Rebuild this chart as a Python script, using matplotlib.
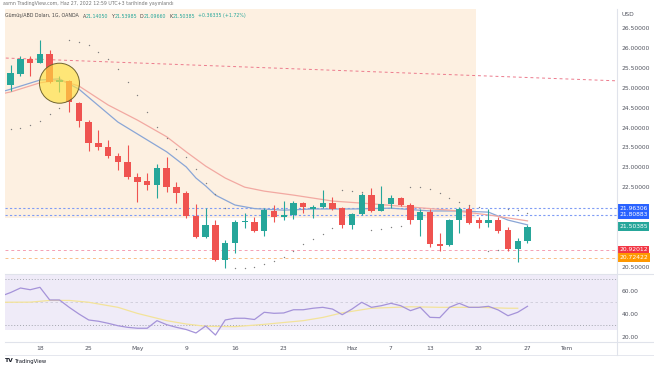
import numpy as np
import matplotlib.pyplot as plt
import matplotlib.transforms as mtransforms
from matplotlib.patches import Ellipse
from matplotlib.lines import Line2D

W, H = 654, 366

# gunluk mumlar, 13 Nisan - 27 Haziran 2022
opens = [25.08, 25.35, 25.73, 25.64, 25.86, 25.16, 25.18, 24.63, 24.15, 23.61, 23.51, 23.29, 23.14, 22.75,
         22.66, 22.55, 22.98, 22.51, 22.35, 21.77, 21.25, 21.55, 20.66, 21.08, 21.61, 21.61, 21.39, 21.90,
         21.75, 21.80, 22.09, 21.96, 22.01, 22.09, 21.97, 21.55, 21.82, 22.30, 21.91, 22.08, 22.22, 22.05,
         21.67, 21.88, 21.07, 21.04, 21.67, 21.94, 21.67, 21.60, 21.67, 21.42, 20.93, 21.1405]
highs = [25.58, 25.81, 25.81, 26.21, 25.96, 25.29, 25.20, 24.65, 24.19, 23.94, 23.69, 23.36, 23.56, 22.85,
         22.85, 23.08, 23.27, 22.64, 22.40, 22.08, 21.97, 21.67, 21.17, 21.67, 21.86, 21.76, 21.97, 22.05,
         22.16, 22.16, 22.12, 22.06, 22.43, 22.26, 22.00, 21.84, 22.36, 22.47, 22.53, 22.30, 22.26, 22.11,
         21.94, 21.94, 21.35, 21.69, 22.01, 22.05, 21.76, 21.94, 21.76, 21.49, 21.21, 21.53985]
lows = [24.92, 25.30, 25.30, 25.63, 25.13, 24.91, 24.40, 24.02, 23.42, 23.44, 23.24, 22.93, 22.70, 22.13,
        22.43, 22.22, 22.39, 22.09, 21.72, 21.21, 21.21, 20.64, 20.45, 20.85, 21.46, 21.37, 21.28, 21.63,
        21.67, 21.69, 21.84, 21.72, 21.97, 21.92, 21.46, 21.44, 21.80, 21.88, 21.89, 21.97, 22.03, 21.57,
        21.27, 20.98, 20.90, 21.02, 21.34, 21.57, 21.46, 21.50, 21.34, 20.90, 20.62, 21.0966]
closes = [25.37, 25.73, 25.64, 25.86, 25.16, 25.20, 24.65, 24.17, 23.61, 23.51, 23.29, 23.14, 22.75, 22.64,
          22.55, 22.98, 22.51, 22.35, 21.77, 21.25, 21.55, 20.66, 21.10, 21.61, 21.63, 21.39, 21.92, 21.74,
          21.80, 22.09, 21.99, 22.01, 22.09, 21.94, 21.55, 21.82, 22.30, 21.91, 22.07, 22.22, 22.05, 21.67,
          21.88, 21.07, 21.02, 21.67, 21.94, 21.60, 21.60, 21.67, 21.40, 20.93, 21.14, 21.50385]

# parabolic SAR noktalari
sar = [23.97, 23.99, 24.07, 24.18, 24.34, 24.49, 26.21, 26.17, 26.08, 25.91, 25.73, 25.48, 25.15, 24.82,
       24.40, 24.02, 23.74, 23.46, 23.26, 22.96, 22.61, 22.33, 21.98, 20.45, 20.47, 20.50, 20.56, 20.65,
       20.75, 20.90, 21.07, 21.19, 21.32, 21.46, 22.43, 22.41, 22.39, 21.42, 21.45, 21.49, 21.52, 22.51,
       22.50, 22.45, 22.35, 22.23, 22.12, 22.05, 21.99, 20.90, 20.92, 21.95, 21.92, 21.86]

# hareketli ortalamalar (okunan noktalar)
ma_fast_idx = [-1, 0, 3, 5, 7, 11, 14, 16, 18, 19, 20, 21, 23, 25, 28, 31, 35, 39, 43, 46, 49, 51, 53]
ma_fast_val = [24.90, 24.97, 25.20, 25.23, 24.97, 24.14, 23.69, 23.39, 23.01, 22.73, 22.53, 22.30, 22.05,
               21.96, 21.92, 21.95, 21.95, 21.97, 21.90, 21.90, 21.87, 21.67, 21.55]
ma_slow_idx = [-1, 0, 3, 5, 7, 10, 13, 16, 18, 20, 22, 24, 26, 29, 33, 37, 41, 45, 49, 53]
ma_slow_val = [24.85, 24.90, 25.13, 25.20, 25.05, 24.57, 24.19, 23.77, 23.39, 23.03, 22.73, 22.50, 22.40,
               22.30, 22.15, 22.08, 22.00, 21.92, 21.80, 21.65]

trend_x = [-1.1, 62.2]
trend_y = [25.76, 25.18]

blue_levels = [21.96306, 21.80883]
red_level = 20.92012
orange_level = 20.72422
last_price = 21.50385

# RSI
rsi_idx = list(range(-1, 54))
rsi = [55.5, 58.7, 62.6, 61.1, 63.2, 52.2, 52.2, 45.8, 40.0, 34.8, 33.7, 31.9, 29.8, 28.4, 27.6, 27.6,
       34.2, 30.7, 28.4, 26.5, 23.5, 29.6, 21.7, 34.8, 36.3, 36.3, 35.2, 41.5, 40.6, 40.9, 43.7, 43.7,
       45.0, 45.8, 44.3, 39.4, 44.3, 50.2, 45.8, 47.2, 49.3, 47.2, 42.9, 45.8, 37.1, 36.8, 45.8, 49.3,
       45.8, 45.8, 46.7, 43.5, 38.5, 41.5, 46.7]
rsi_ma_idx = [-1, 2, 4, 6, 8, 11, 13, 16, 18, 20, 23, 26, 30, 32, 34, 37, 41, 44, 48, 51, 52]
rsi_ma_val = [50.2, 50.3, 51.8, 51.8, 50.2, 45.8, 40.5, 34.2, 31.3, 29.3, 29.0, 31.0, 34.2, 37.0, 41.0,
              45.0, 46.3, 45.8, 45.8, 45.0, 45.0]

date_idx = [3, 8, 13, 18, 23, 28, 35, 39, 43, 48, 53, 57]
date_lbl = ['18', '25', 'May', '9', '16', '23', 'Haz', '7', '13', '20', '27', 'Tem']
# 22.0, 21.5, 21.0 etiketleri rozetlerin altinda kaliyor
price_ticks = [20.5, 22.5, 23.0, 23.5, 24.0, 24.5, 25.0, 25.5, 26.0, 26.5]
rsi_ticks = [20, 40, 60]

GREEN = '#26a69a'
RED = '#ef5350'
TXT = '#50535e'
FS = 4.3


def px(x0, y0, x1, y1):
    return [x0 / W, 1 - y1 / H, (x1 - x0) / W, (y1 - y0) / H]


fig = plt.figure(figsize=(W / 100, H / 100), dpi=100)
fig.patch.set_facecolor('white')
ax = fig.add_axes(px(5, 9, 617, 272))
ax2 = fig.add_axes(px(5, 275, 617, 341))

xmin, xmax = -0.585, 62.18
for a in (ax, ax2):
    a.set_xlim(xmin, xmax)
    for s in a.spines.values():
        s.set_visible(False)
    a.yaxis.tick_right()
    a.tick_params(length=0, labelsize=FS, labelcolor=TXT, pad=3.6)

ax.set_ylim(20.3614, 26.991)
ax2.set_ylim(16.52, 73.91)

# seftali kutu
ax.fill_between([xmin, 47.7], 21.72, 27.5, color='#fdf0e1', lw=0, zorder=0)

# yatay seviyeler
for lv in blue_levels:
    ax.axhline(lv, color='#7f9cf5', lw=0.8, ls=(0, (2, 2)), zorder=1)
ax.axhline(red_level, color='#f59fb2', lw=0.7, ls=(0, (3, 3)), zorder=1)
ax.axhline(orange_level, color='#f9c08a', lw=0.7, ls=(0, (3, 3)), zorder=1)
ax.plot(trend_x, trend_y, color='#ec7a8c', lw=0.7, ls=(0, (3, 3)), zorder=1)

# ortalamalar
ax.plot(ma_fast_idx, ma_fast_val, color='#8aa6d6', lw=0.9, zorder=2)
ax.plot(ma_slow_idx, ma_slow_val, color='#f2a9a2', lw=0.9, zorder=2)

# mumlar
x = np.arange(len(opens))
o, h, l, c = map(np.array, (opens, highs, lows, closes))
cols = [GREEN if cc >= oo else RED for oo, cc in zip(o, c)]
ax.vlines(x, l, h, colors=cols, lw=0.8, zorder=3)
body = np.maximum(np.abs(c - o), 0.03)
ax.bar(x, body, bottom=np.minimum(o, c), width=0.66, color=cols, lw=0, zorder=3)

ax.scatter(x, sar, s=1.0, color='#808080', lw=0, zorder=4)

# sari daire
ax.add_patch(Ellipse((5, 25.12), 40 / 9.75, 40 / 39.67, facecolor='#ffe23f', alpha=0.65,
                     edgecolor='none', zorder=5))
ax.add_patch(Ellipse((5, 25.12), 40 / 9.75, 40 / 39.67, facecolor='none',
                     edgecolor='#6f6430', lw=0.7, zorder=5))

ax.set_yticks(price_ticks)
ax.set_yticklabels([f'{t:.5f}' for t in price_ticks])
ax.set_xticks([])

# fiyat etiketleri
bt = mtransforms.blended_transform_factory(ax.transAxes, ax.transData)
off = mtransforms.ScaledTranslation(2 / 100, 0, fig.dpi_scale_trans)
for val, colr in [(blue_levels[0], '#2962ff'), (blue_levels[1], '#2962ff'), (last_price, GREEN),
                  (red_level, '#f23645'), (orange_level, '#ff9800')]:
    ax.text(1.0, val, f'{val:.5f}', transform=bt + off, ha='left', va='center', fontsize=FS,
            color='white', clip_on=False, zorder=10,
            bbox=dict(boxstyle='square,pad=0.3', fc=colr, ec='none'))
ax.text(1.0, 1.0, 'USD', transform=ax.transAxes + mtransforms.ScaledTranslation(5 / 100, -5 / 100, fig.dpi_scale_trans),
        ha='left', va='center', fontsize=FS, color=TXT, clip_on=False)

# RSI paneli
ax2.axhspan(26, 80, color='#efebf8', lw=0, zorder=0)
ax2.axhline(70, color='#a3a6af', lw=0.7, ls=(0, (1, 2)), zorder=1)
ax2.axhline(30, color='#a3a6af', lw=0.7, ls=(0, (1, 2)), zorder=1)
ax2.axhline(50, color='#cdcbd8', lw=0.6, ls=(0, (3, 3)), zorder=1)
ax2.plot(rsi_ma_idx, rsi_ma_val, color='#f3e39a', lw=0.9, zorder=2)
ax2.plot(rsi_idx, rsi, color='#a593d9', lw=0.9, zorder=3)
ax2.set_yticks(rsi_ticks)
ax2.set_yticklabels([f'{t:.2f}' for t in rsi_ticks])
ax2.set_xticks(date_idx)
ax2.set_xticklabels(date_lbl)
ax2.tick_params(axis='x', pad=3.5)

# ayirici cizgiler
lc = '#e0e3eb'
fig.add_artist(Line2D([617 / W, 617 / W], [1 - 9 / H, 1 - 355 / H], color=lc, lw=0.8))
fig.add_artist(Line2D([5 / W, 1], [1 - 274 / H, 1 - 274 / H], color=lc, lw=0.8))
fig.add_artist(Line2D([5 / W, 1], [1 - 341.5 / H, 1 - 341.5 / H], color=lc, lw=0.8))
fig.add_artist(Line2D([5 / W, 1], [1 - 355 / H, 1 - 355 / H], color=lc, lw=0.6))

# baslik
HFS = 3.4
fig.text(3 / W, 1 - 4 / H, 'asmn TradingView.com, Haz 27, 2022 12:59 UTC+3 tarihinde yayınlandı',
         fontsize=HFS, color='#777777', va='center')
yh = 1 - 16 / H
pieces = [('Gümüş/ABD Doları, 1G, OANDA', '#444444', 4), ('A', '#444444', 0), ('21.14050', GREEN, 3),
          ('Y', '#444444', 0), ('21.53985', GREEN, 3), ('D', '#444444', 0), ('21.09660', GREEN, 3),
          ('K', '#444444', 0), ('21.50385', GREEN, 3), ('+0.36335 (+1.72%)', GREEN, 0)]
renderer = fig.canvas.get_renderer()
xp = 5.0
for txt, colr, gap in pieces:
    t = fig.text(xp / W, yh, txt, fontsize=HFS, color=colr, va='center')
    xp += t.get_window_extent(renderer).width + gap

fig.text(5 / W, 1 - 361 / H, 'TV', fontsize=4.3, color='#131722', va='center', fontweight='bold')
fig.text(15 / W, 1 - 361 / H, 'TradingView', fontsize=3.8, color='#131722', va='center')

fig.savefig('out.png', dpi=100)
